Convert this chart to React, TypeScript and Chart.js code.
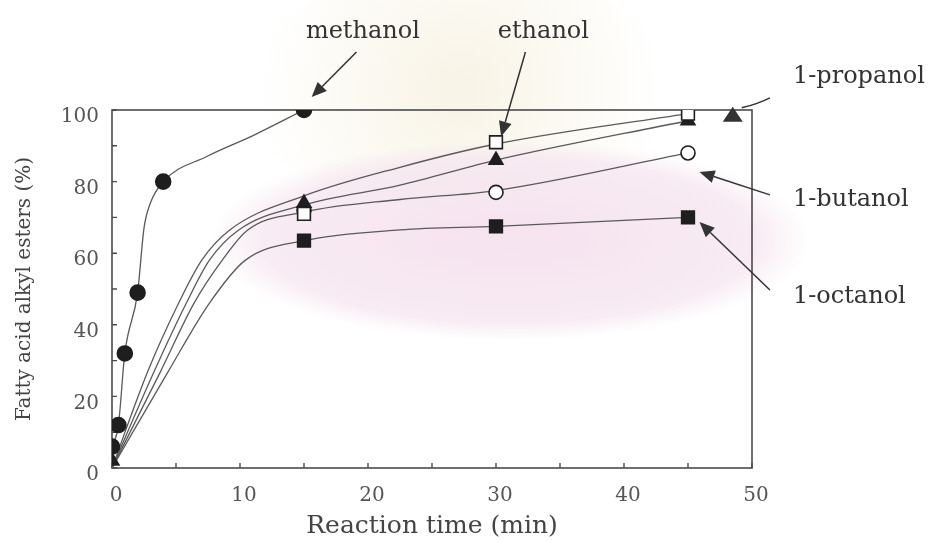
import React, { useEffect, useRef } from "react";
import { Chart, registerables } from "chart.js";

Chart.register(...registerables);

// ---- measured points (markers) ----
const methanolTime = [0, 0.5, 1, 2, 4, 15];
const methanolYield = [6, 12, 32, 49, 80, 100];

const sampleTime = [15, 30, 45];
const ethanolYield = [71, 91, 99];
const propanolTime = [0, 15, 30, 45];
const propanolYield = [2, 74, 86, 97];
const butanolYield = [72, 77, 88];
const octanolYield = [63.5, 67.5, 70];

// ---- fitted curves ----
const methanolCurveTime = [0, 0.5, 1, 2, 2.5, 3, 4, 7.4, 11.1, 15];
const methanolCurveYield = [6, 12, 32, 49, 67, 74, 80, 87, 93, 100];
const ethanolCurveTime = [0, 2.8, 5.2, 7.0, 9.2, 15, 22.5, 30, 45];
const ethanolCurveYield = [0, 27, 46, 58, 66.5, 76, 84, 90.5, 99];
const propanolCurveTime = [0, 3.3, 5.8, 7.6, 9.9, 15, 22.5, 30, 45];
const propanolCurveYield = [0, 27, 46, 58, 66.5, 73.5, 79, 86, 97];
const butanolCurveTime = [0, 3.8, 6.4, 8.6, 10.6, 15, 22.5, 30, 45];
const butanolCurveYield = [0, 27, 46, 58, 66.5, 71.5, 75, 77.5, 88];
const octanolCurveTime = [0, 4.4, 7.6, 10.4, 15, 22.5, 30, 45];
const octanolCurveYield = [0, 27, 46, 58, 63.5, 66.5, 67.5, 70];

// ---- axes ----
const xMin = 0;
const xMax = 50;
const xStep = 5;
const xLabelEvery = 10;
const yMin = 0;
const yMax = 100;
const yStep = 10;
const yLabelEvery = 20;
const xTitle = "Reaction time (min)";
const yTitle = "Fatty acid alkyl esters (%)";

// ---- annotations (in data units) ----
const noteLabels = ["methanol", "ethanol", "1-propanol", "1-butanol", "1-octanol"];
const noteX = [19.6, 33.7, 53.2, 53.2, 53.2];
const noteY = [121.8, 121.8, 109.2, 74.9, 47.8];
const noteFromX = [19.1, 32.3, 51.4, 51.4, 51.4];
const noteFromY = [116.2, 116.2, 103.4, 76.3, 49.7];
const noteToX = [15.6, 30.4, 49.2, 45.9, 45.9];
const noteToY = [103.6, 92.6, 100.6, 82.7, 68.7];

const pts = (xs: number[], ys: number[]) => xs.map((x, i) => ({ x, y: ys[i] }));

const INK = "#1e1e1e";
const LINE = "#5a5a5a";
const FONT = "'DejaVu Serif', 'Liberation Serif', serif";

const backgroundPlugin = {
  id: "paperBackground",
  beforeDraw(chart: any) {
    const ctx = chart.ctx;
    ctx.save();
    ctx.fillStyle = "#ffffff";
    ctx.fillRect(0, 0, chart.width, chart.height);
    // faint cream blob (scanned emblem)
    let g = ctx.createRadialGradient(460, 90, 10, 460, 90, 200);
    g.addColorStop(0, "rgba(246,240,222,0.75)");
    g.addColorStop(1, "rgba(246,240,222,0)");
    ctx.fillStyle = g;
    ctx.beginPath();
    ctx.ellipse(460, 90, 220, 120, 0, 0, Math.PI * 2);
    ctx.fill();
    // pale pink ellipse
    ctx.translate(510, 240);
    ctx.scale(3, 1);
    g = ctx.createRadialGradient(0, 0, 10, 0, 0, 100);
    g.addColorStop(0, "rgba(245,226,238,0.95)");
    g.addColorStop(0.8, "rgba(246,230,240,0.8)");
    g.addColorStop(1, "rgba(246,230,240,0)");
    ctx.fillStyle = g;
    ctx.beginPath();
    ctx.arc(0, 0, 100, 0, Math.PI * 2);
    ctx.fill();
    ctx.restore();
  },
};

const framePlugin = {
  id: "frameAndTicks",
  beforeDatasetsDraw(chart: any) {
    const { ctx, chartArea, scales } = chart;
    const { left, right, top, bottom } = chartArea;
    ctx.save();
    ctx.strokeStyle = "#4a4a4a";
    ctx.lineWidth = 1.6;
    ctx.strokeRect(left, top, right - left, bottom - top);
    ctx.lineWidth = 1.4;
    ctx.beginPath();
    scales.x.ticks.forEach((t: any) => {
      const px = scales.x.getPixelForValue(t.value);
      ctx.moveTo(px, bottom);
      ctx.lineTo(px, bottom - 5);
    });
    scales.y.ticks.forEach((t: any) => {
      const py = scales.y.getPixelForValue(t.value);
      ctx.moveTo(left, py);
      ctx.lineTo(left + 5, py);
    });
    ctx.stroke();
    ctx.restore();
  },
};

const notesPlugin = {
  id: "notes",
  afterDatasetsDraw(chart: any) {
    const { ctx, scales } = chart;
    const X = (v: number) => scales.x.getPixelForValue(v);
    const Y = (v: number) => scales.y.getPixelForValue(v);
    ctx.save();
    ctx.fillStyle = "#333";
    ctx.strokeStyle = "#333";
    ctx.lineWidth = 1.5;
    ctx.font = `24px ${FONT}`;
    ctx.textBaseline = "middle";
    noteLabels.forEach((label, i) => {
      ctx.textAlign = i < 2 ? "center" : "left";
      ctx.fillText(label, X(noteX[i]), Y(noteY[i]));
      const sx = X(noteFromX[i]);
      const sy = Y(noteFromY[i]);
      const tx = X(noteToX[i]);
      const ty = Y(noteToY[i]);
      if (i === 2) {
        ctx.beginPath();
        ctx.moveTo(sx, sy);
        ctx.quadraticCurveTo(sx - 12, sy + 6, tx, ty);
        ctx.stroke();
        const cx = tx - 9;
        const cy = ty + 7;
        ctx.beginPath();
        ctx.moveTo(cx, cy - 8);
        ctx.lineTo(cx + 10, cy + 7);
        ctx.lineTo(cx - 10, cy + 7);
        ctx.closePath();
        ctx.fill();
        return;
      }
      const ang = Math.atan2(ty - sy, tx - sx);
      const headLen = 15;
      const headHalf = 6.5;
      const bx = tx - headLen * Math.cos(ang);
      const by = ty - headLen * Math.sin(ang);
      ctx.beginPath();
      ctx.moveTo(sx, sy);
      ctx.lineTo(bx, by);
      ctx.stroke();
      ctx.beginPath();
      ctx.moveTo(tx, ty);
      ctx.lineTo(bx + headHalf * Math.sin(ang), by - headHalf * Math.cos(ang));
      ctx.lineTo(bx - headHalf * Math.sin(ang), by + headHalf * Math.cos(ang));
      ctx.closePath();
      ctx.fill();
    });
    ctx.restore();
  },
};

const markerSet = (label: string, data: any[], style: string, filled: boolean, radius: number) => ({
  label,
  data,
  showLine: false,
  pointStyle: style,
  pointRadius: radius,
  pointBackgroundColor: filled ? INK : "#ffffff",
  pointBorderColor: INK,
  pointBorderWidth: 1.6,
  borderColor: INK,
  backgroundColor: INK,
});

const curveSet = (label: string, data: any[]) => ({
  label,
  data,
  showLine: true,
  pointRadius: 0,
  borderColor: LINE,
  borderWidth: 1.3,
  cubicInterpolationMode: "monotone" as const,
  fill: false,
});

export default function App() {
  const ref = useRef<HTMLCanvasElement | null>(null);

  useEffect(() => {
    if (!ref.current) return;
    const chart = new Chart(ref.current, {
      type: "line",
      data: {
        datasets: [
          markerSet("methanol", pts(methanolTime, methanolYield), "circle", true, 7.5),
          markerSet("ethanol", pts(sampleTime, ethanolYield), "rect", false, 9),
          markerSet("1-propanol", pts(propanolTime, propanolYield), "triangle", true, 8),
          markerSet("1-butanol", pts(sampleTime, butanolYield), "circle", false, 7),
          markerSet("1-octanol", pts(sampleTime, octanolYield), "rect", true, 9),
          curveSet("methanol fit", pts(methanolCurveTime, methanolCurveYield)),
          curveSet("ethanol fit", pts(ethanolCurveTime, ethanolCurveYield)),
          curveSet("1-propanol fit", pts(propanolCurveTime, propanolCurveYield)),
          curveSet("1-butanol fit", pts(butanolCurveTime, butanolCurveYield)),
          curveSet("1-octanol fit", pts(octanolCurveTime, octanolCurveYield)),
        ] as any,
      },
      options: {
        responsive: false,
        animation: false,
        devicePixelRatio: 1,
        layout: { padding: { left: 0, top: 110, right: 178, bottom: 0 } },
        plugins: { legend: { display: false }, tooltip: { enabled: false } },
        scales: {
          x: {
            type: "linear",
            min: xMin,
            max: xMax,
            afterFit: (s: any) => {
              s.height = 74;
            },
            grid: { display: false, drawTicks: false },
            border: { display: false },
            ticks: {
              stepSize: xStep,
              autoSkip: false,
              maxRotation: 0,
              padding: 16,
              labelOffset: 4,
              color: "#555",
              font: { family: FONT, size: 20 },
              callback: (v: any) => (Number(v) % xLabelEvery === 0 ? String(v) : ""),
            },
            title: {
              display: true,
              text: xTitle,
              color: "#444",
              font: { family: FONT, size: 25 },
              padding: { top: 0, bottom: 1 },
            },
          },
          y: {
            type: "linear",
            min: yMin,
            max: yMax,
            afterFit: (s: any) => {
              s.width = 112;
            },
            grid: { display: false, drawTicks: false },
            border: { display: false },
            ticks: {
              stepSize: yStep,
              autoSkip: false,
              padding: 13,
              labelOffset: 7,
              color: "#555",
              font: { family: FONT, size: 20 },
              callback: (v: any) => (Number(v) % yLabelEvery === 0 ? String(v) : ""),
            },
            title: {
              display: true,
              text: yTitle,
              color: "#444",
              font: { family: FONT, size: 20 },
              padding: { top: 13, bottom: 0 },
            },
          },
        },
      },
      plugins: [backgroundPlugin, framePlugin, notesPlugin],
    });
    return () => chart.destroy();
  }, []);

  return (
    <div style={{ position: "absolute", left: 0, top: 0, width: 930, height: 542 }}>
      <canvas ref={ref} width={930} height={542} style={{ width: 930, height: 542 }} />
    </div>
  );
}
